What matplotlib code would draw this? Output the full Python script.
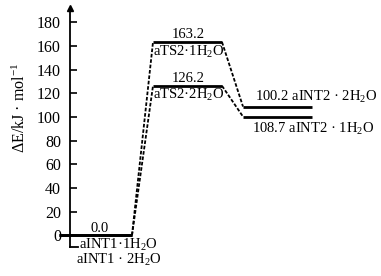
import numpy as np
import matplotlib.pyplot as plt

plt.rcParams['font.family'] = 'Liberation Serif'
plt.rcParams['mathtext.fontset'] = 'custom'
plt.rcParams['mathtext.rm'] = 'Liberation Serif'
plt.rcParams['mathtext.it'] = 'Liberation Serif:italic'

# energies (kJ/mol) along the two pathways
species = ['aINT1', 'aTS2', 'aINT2']
e_1h2o = [0.0, 163.2, 108.7]
e_2h2o = [0.0, 126.2, 100.2]
yticks = [0, 20, 40, 60, 80, 100, 120, 140, 160, 180]

# horizontal extent of each level (x units)
x_left = [-11, 83, 173]
x_right = [62, 152, 242]

fig = plt.figure(figsize=(3.81, 2.76), dpi=100)
ax = fig.add_axes([70 / 381, 29 / 276, 311 / 381, 239 / 276])
ax.set_xlim(0, 311)
ax.set_ylim(-10, 192)

for e in (e_1h2o, e_2h2o):
    for i in range(3):
        ax.plot([x_left[i], x_right[i]], [e[i], e[i]], color='black', lw=2,
                solid_capstyle='butt', clip_on=False)
    for i in range(2):
        ax.plot([x_right[i], x_left[i + 1]], [e[i], e[i + 1]], color='black',
                lw=1.3, ls=(0, (2, 1)))

# labels
fs = 10.5
ax.text(30, 0.5, '0.0', ha='center', va='bottom', fontsize=fs)
ax.annotate('aINT1·1H$_2$O', (48, 0), xytext=(0, -1), textcoords='offset points',
            ha='center', va='top', fontsize=fs, annotation_clip=False)
ax.annotate('aINT1 · 2H$_2$O', (49, 0), xytext=(0, -12), textcoords='offset points',
            ha='center', va='top', fontsize=fs, annotation_clip=False)

ax.text(118, e_1h2o[1] + 0.5, '%.1f' % e_1h2o[1], ha='center', va='bottom', fontsize=fs)
ax.annotate('aTS2·1H$_2$O', (118.5, e_1h2o[1]), xytext=(0, -1), textcoords='offset points',
            ha='center', va='top', fontsize=fs)
ax.text(118, e_2h2o[1] + 0.5, '%.1f' % e_2h2o[1], ha='center', va='bottom', fontsize=fs)
ax.annotate('aTS2·2H$_2$O', (118.5, e_2h2o[1]), xytext=(0, -1), textcoords='offset points',
            ha='center', va='top', fontsize=fs)

ax.text(185, e_1h2o[2] + 1, '%.1f aINT2 · 2H$_2$O' % e_2h2o[2], ha='left', va='bottom',
        fontsize=fs, clip_on=False)
ax.annotate('%.1f aINT2 · 1H$_2$O' % e_1h2o[2], (182, e_2h2o[2]), xytext=(0, -3),
            textcoords='offset points', ha='left', va='top', fontsize=fs,
            annotation_clip=False)

# axis styling
for s in ['top', 'right', 'bottom']:
    ax.spines[s].set_visible(False)
ax.spines['left'].set_linewidth(1.3)
ax.set_xticks([])
ax.set_yticks(yticks)
ax.tick_params(axis='y', direction='in', length=5, width=1.2, labelsize=11.5, pad=6.5)
ax.plot([0], [1], marker='^', color='black', markersize=5, transform=ax.transAxes,
        clip_on=False)
ax.plot([0, 8], [-10, -10], color='black', lw=1.3, clip_on=False)

fig.text(20 / 381, 1 - 108 / 276, 'ΔE/kJ · mol$^{-1}$', rotation=90, ha='center',
         va='center', fontsize=11.5)

fig.savefig('out.png', dpi=100)
